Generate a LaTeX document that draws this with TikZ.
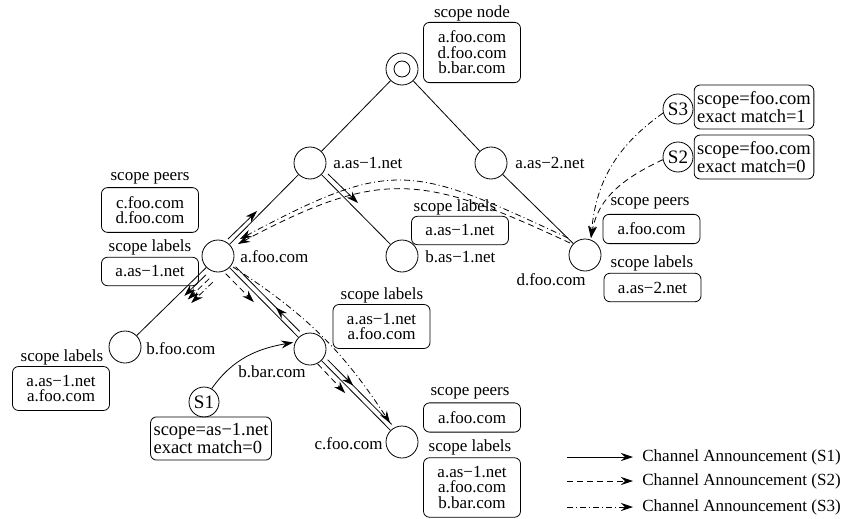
\documentclass[tikz,border=0pt]{standalone}
\usepackage{fontspec}
\setmainfont{Liberation Serif}
\usetikzlibrary{arrows.meta,calc,decorations.markings}

\begin{document}
\begin{tikzpicture}[x=1pt,y=1pt,line width=0.8pt,
  every node/.style={font=\fontsize{17}{15.5}\selectfont},
  site/.style={draw,circle,minimum size=32pt,inner sep=0pt},
  src/.style={draw,circle,minimum size=30pt,inner sep=0pt,font=\fontsize{19}{19}\selectfont},
  tag/.style={inner sep=2pt},
  tablebox/.style={draw,rounded corners=6pt,align=center,minimum width=97pt,inner xsep=4pt,inner ysep=8.5pt},
  querybox/.style={draw,rounded corners=6pt,align=left,inner xsep=3pt,inner ysep=6.5pt,font=\fontsize{18.5}{14.5}\selectfont},
  ann/.style={-{Stealth[length=12pt,width=8pt,inset=4pt]}},
  annmid/.style={postaction={decorate},decoration={markings,
    mark=at position #1 with {\arrow{Stealth[length=12pt,width=8pt,inset=4pt]}}}},
  sdash/.style={dash pattern=on 6pt off 4pt},
  sdot/.style={dash pattern=on 6pt off 3pt on 1pt off 3pt}]

\useasboundingbox (0,0) rectangle (843,-519);

% tree
\node[site] (root) at (402,-69) {};
\draw (root.center) circle (8);
\node[site] (asone) at (310,-163) {};
\node[site] (astwo) at (491,-163) {};
\node[site] (afoo) at (218,-256) {};
\node[site] (basone) at (402,-256) {};
\node[site] (dfoo) at (585,-255) {};
\node[site] (bfoo) at (125,-347) {};
\node[site] (bbar) at (310,-349) {};
\node[site] (cfoo) at (402,-442) {};

\draw (root) -- (asone) (root) -- (astwo)
      (asone) -- (afoo) (asone) -- (basone)
      (astwo) -- (dfoo)
      (afoo) -- (bfoo) (afoo) -- (bbar)
      (bbar) -- (cfoo);

\node[tag,anchor=west] (asonetag) at (331,-163) {a.as−1.net};
\node[tag,anchor=west] (astwotag) at (513,-163) {a.as−2.net};
\node[tag,anchor=west] (afootag) at (238,-257) {a.foo.com};
\node[tag,anchor=west] (basonetag) at (423,-257) {b.as−1.net};
\node[tag] (dfootag) at (551,-280) {d.foo.com};
\node[tag,anchor=west] (bfootag) at (144,-349) {b.foo.com};
\node[tag] (bbartag) at (272,-372) {b.bar.com};
\node[tag,anchor=east] (cfootag) at (385,-444) {c.foo.com};

% scope tables
\node (rootcap) at (472,-13) {scope node};
\node[tablebox] (rootbox) at (472,-52.5) {a.foo.com\\d.foo.com\\b.bar.com};
\node (afoopcap) at (150,-178) {scope peers};
\node[tablebox] (afoopbox) at (150,-210) {c.foo.com\\d.foo.com};
\node (afoolcap) at (150,-247) {scope labels};
\node[tablebox] (afoolbox) at (150,-271.5) {a.as−1.net};
\node (basonecap) at (455,-207) {scope labels};
\node[tablebox] (basonebox) at (460,-230.5) {a.as−1.net};
\node (dfoopcap) at (650,-203) {scope peers};
\node[tablebox] (dfoopbox) at (651.5,-229) {a.foo.com};
\node (dfoolcap) at (652,-263) {scope labels};
\node[tablebox] (dfoolbox) at (652.5,-287.5) {a.as−2.net};
\node (bfoocap) at (62,-357) {scope labels};
\node[tablebox] (bfoobox) at (61,-388.5) {a.as−1.net\\a.foo.com};
\node (bbarcap) at (382,-295) {scope labels};
\node[tablebox] (bbarbox) at (381.5,-326.5) {a.as−1.net\\a.foo.com};
\node (cfoopcap) at (470,-393) {scope peers};
\node[tablebox] (cfoopbox) at (472,-417.5) {a.foo.com};
\node (cfoolcap) at (470,-447) {scope labels};
\node[tablebox] (cfoolbox) at (472,-487.5) {a.as−1.net\\a.foo.com\\b.bar.com};

% sources
\node[src] (sone) at (204,-402) {S1};
\node[querybox] (sonebox) at (211,-438.5) {scope=as−1.net\\exact match=0};
\node[src] (sthree) at (678,-109) {S3};
\node[querybox] (sthreebox) at (754,-107) {scope=foo.com\\exact match=1};
\node[src] (stwo) at (678,-157) {S2};
\node[querybox] (stwobox) at (754,-157) {scope=foo.com\\exact match=0};

% S1 announcement
\draw[ann,shorten >=2pt] (sone.60) to[out=55,in=190] (bbar.155);
\draw[annmid=0.37] ($(bbar)+(-10.4,17.6)$) -- ($(afoo)+(17.6,-10.7)$);
\draw[annmid=0.40] ($(bbar)+(17.6,-10.7)$) -- ($(cfoo)+(-10.4,17.6)$);
\draw[ann] ($(afoo)+(10,17)$) -- ($(afoo)+(39,45)$);
\draw[ann] ($(asone)+(18,-11)$) -- ($(asone)+(48,-40)$);
\draw[ann] ($(afoo)+(-12.2,-19)$) -- ($(afoo)+(-33.7,-39.9)$);

% S2 announcement
\draw[ann,sdash] (stwo.190) to[out=205,in=80] ($(dfoo)+(6,17)$);
\draw[ann,sdash] ($(dfoo)+(-15,12)$) to[out=155,in=28,looseness=1.25] ($(afoo)+(20,12)$);
\draw[ann,sdash] ($(afoo)+(-8.7,-22.6)$) -- ($(afoo)+(-30.2,-43.5)$);
\draw[ann,sdash] ($(afoo)+(7.7,-17.7)$) -- ($(afoo)+(35.8,-46.1)$);
\draw[ann,sdash] ($(bbar)+(7.7,-14.9)$) -- ($(bbar)+(35.1,-44)$);

% S3 announcement
\draw[ann,sdot] (sthree.195) to[out=215,in=85] ($(dfoo)+(6,17)$);
\draw[ann,sdot] ($(dfoo)+(-17,17)$) to[out=155,in=28,looseness=1.35] ($(afoo)+(22,17)$);
\draw[ann,sdot] ($(afoo)+(-5.2,-26.1)$) -- ($(afoo)+(-26.7,-47)$);
\draw[ann,sdot] ($(afoo)+(15,-11)$) to[bend left=12] ($(cfoo)+(-12,19)$);

% key
\node[tag,anchor=west] (keyone) at (640,-457) {Channel Announcement (S1)};
\node[tag,anchor=west] (keytwo) at (640,-481) {Channel Announcement (S2)};
\node[tag,anchor=west] (keythree) at (640,-507) {Channel Announcement (S3)};
\coordinate (keyonestart) at (567,-457);
\coordinate (keytwostart) at (567,-481);
\coordinate (keythreestart) at (567,-507);
\draw[ann,shorten >=7pt] (keyonestart) -- (keyone.west);
\draw[ann,sdash,shorten >=7pt] (keytwostart) -- (keytwo.west);
\draw[ann,sdot,shorten >=7pt] (keythreestart) -- (keythree.west);
\end{tikzpicture}
\end{document}
